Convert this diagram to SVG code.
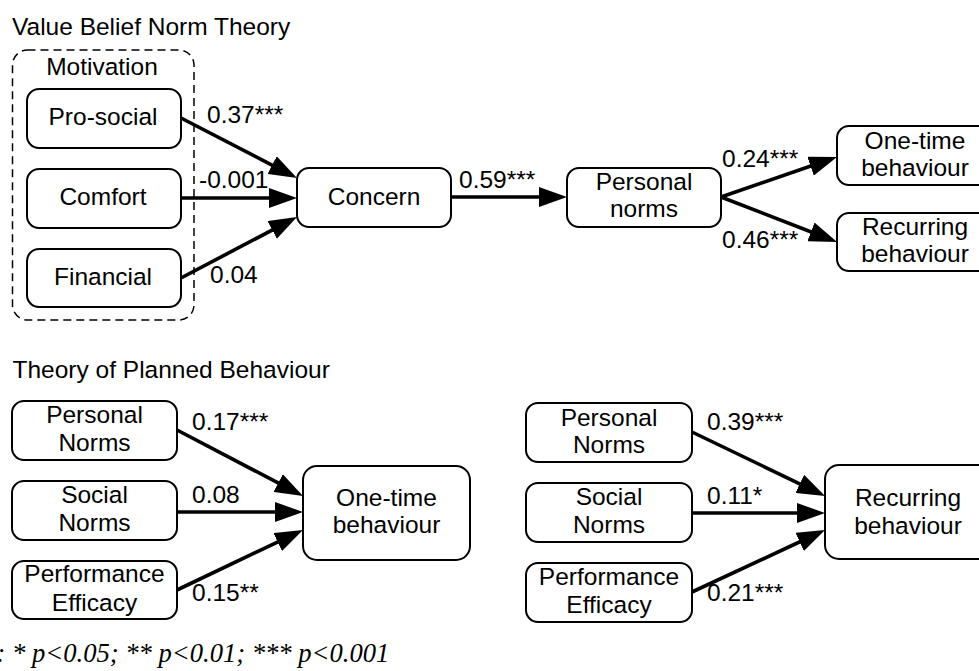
<svg xmlns="http://www.w3.org/2000/svg" width="979" height="671" viewBox="0 0 979 671">
<style>
.box{fill:#fff;stroke:#000;stroke-width:2}
.t{font-family:"Liberation Sans",Arial,Helvetica,sans-serif;font-size:24.5px;fill:#000}
.c{text-anchor:middle}
.e{fill:none;stroke:#000;stroke-width:3.6;marker-end:url(#ah)}
.note{font-family:"Liberation Serif","Times New Roman",serif;font-size:26.6px;font-style:italic;fill:#000}
</style>
<defs>
<marker id="ah" viewBox="0 0 28 20" refX="8" refY="10" markerWidth="28" markerHeight="20" markerUnits="userSpaceOnUse" orient="auto">
<path d="M0,0 L28,10 L0,20 z" fill="#000"/>
</marker>
</defs>
<rect width="979" height="671" fill="#fff"/>

<text class="t" x="12" y="35">Value Belief Norm Theory</text>
<g id="motivation">
<rect x="12.5" y="50" width="181.5" height="270" rx="15" fill="none" stroke="#000" stroke-width="1.5" stroke-dasharray="8 5"/>
<text class="t c" x="102" y="75">Motivation</text>
</g>
<g id="prosocial"><rect class="box" x="27" y="89" width="154" height="59" rx="12"/><text class="t c" x="103" y="125">Pro-social</text></g>
<g id="comfort"><rect class="box" x="27" y="169" width="154" height="59" rx="12"/><text class="t c" x="103" y="205">Comfort</text></g>
<g id="financial"><rect class="box" x="27" y="249" width="154" height="58" rx="12"/><text class="t c" x="103" y="285">Financial</text></g>
<g id="concern"><rect class="box" x="297" y="168" width="154" height="59" rx="12"/><text class="t c" x="374" y="205">Concern</text></g>
<g id="personal-norms"><rect class="box" x="567" y="168" width="154" height="59" rx="12"/><text class="t c" x="644" y="190">Personal</text><text class="t c" x="644" y="217">norms</text></g>
<g id="onetime-top"><rect class="box" x="837" y="126" width="154" height="59" rx="12"/><text class="t c" x="915" y="148.5">One-time</text><text class="t c" x="915" y="175.5">behaviour</text></g>
<g id="recurring-top"><rect class="box" x="837" y="213" width="154" height="58" rx="12"/><text class="t c" x="915" y="235">Recurring</text><text class="t c" x="915" y="262">behaviour</text></g>

<text class="t" x="12.5" y="378">Theory of Planned Behaviour</text>
<g id="pn-left"><rect class="box" x="12" y="401" width="165" height="59" rx="12"/><text class="t c" x="94.5" y="422.7">Personal</text><text class="t c" x="94.5" y="450.7">Norms</text></g>
<g id="sn-left"><rect class="box" x="12" y="481" width="165" height="59" rx="12"/><text class="t c" x="94.5" y="502.7">Social</text><text class="t c" x="94.5" y="531">Norms</text></g>
<g id="pe-left"><rect class="box" x="12" y="561" width="165" height="58" rx="12"/><text class="t c" x="94.5" y="582.3">Performance</text><text class="t c" x="94.5" y="610.7">Efficacy</text></g>
<g id="onetime-bottom"><rect class="box" x="303" y="466" width="167" height="94" rx="14"/><text class="t c" x="386.5" y="505.7">One-time</text><text class="t c" x="386.5" y="533.3">behaviour</text></g>

<g id="pn-right"><rect class="box" x="526" y="403" width="166" height="59" rx="12"/><text class="t c" x="609" y="425.5">Personal</text><text class="t c" x="609" y="453">Norms</text></g>
<g id="sn-right"><rect class="box" x="526" y="483" width="166" height="59" rx="12"/><text class="t c" x="609" y="505">Social</text><text class="t c" x="609" y="532.5">Norms</text></g>
<g id="pe-right"><rect class="box" x="526" y="563" width="166" height="59" rx="12"/><text class="t c" x="609" y="585">Performance</text><text class="t c" x="609" y="612.5">Efficacy</text></g>
<g id="recurring-bottom"><rect class="box" x="825" y="465" width="167" height="94" rx="14"/><text class="t c" x="908" y="506">Recurring</text><text class="t c" x="908" y="533.5">behaviour</text></g>

<g id="connectors">
<path class="e" d="M181,118 L279.2,168.8"/>
<path class="e" d="M181,198 L277,198"/>
<path class="e" d="M181,278 L279.3,226.3"/>
<path class="e" d="M451,197 L547,197"/>
<path class="e" d="M721,197 L818.1,163.5"/>
<path class="e" d="M721,197 L818.4,234.8"/>
<path class="e" d="M177,430 L285.3,486.7"/>
<path class="e" d="M177,512 L283,512"/>
<path class="e" d="M177,590 L284.9,538.6"/>
<path class="e" d="M692,432 L807,487.3"/>
<path class="e" d="M692,513 L805,513"/>
<path class="e" d="M692,592 L806.9,538.5"/>
<text class="t" x="207" y="123">0.37***</text>
<text class="t" x="199" y="188">-0.001</text>
<text class="t" x="210" y="283">0.04</text>
<text class="t" x="459" y="187.5">0.59***</text>
<text class="t" x="722" y="166.5">0.24***</text>
<text class="t" x="722" y="248">0.46***</text>
<text class="t" x="192" y="430">0.17***</text>
<text class="t" x="192" y="502.7">0.08</text>
<text class="t" x="192" y="600.7">0.15**</text>
<text class="t" x="707" y="430">0.39***</text>
<text class="t" x="707" y="504">0.11*</text>
<text class="t" x="707" y="600.7">0.21***</text>
</g>

<text class="note" x="-3.5" y="662">: * p&lt;0.05; ** p&lt;0.01; *** p&lt;0.001</text>
</svg>
